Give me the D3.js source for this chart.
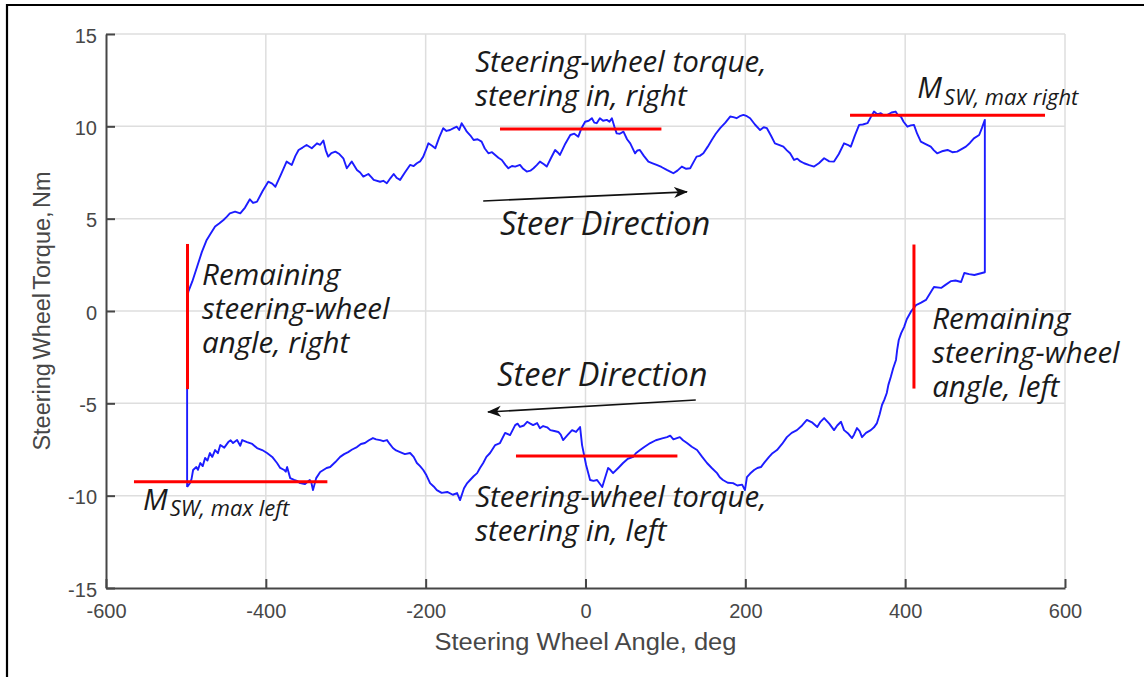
<!DOCTYPE html>
<html>
<head>
<meta charset="utf-8">
<script src="https://cdn.jsdelivr.net/npm/d3@7"></script>
<style>
  html, body { margin: 0; padding: 0; background: #fff; }
  svg { display: block; }
</style>
</head>
<body>
<svg id="chart" width="1144" height="677"></svg>
<script>
// Axis ticks
const xTicks = [-600, -400, -200, 0, 200, 400, 600];
const yTicks = [-15, -10, -5, 0, 5, 10, 15];

// Steering in to the right: [angle deg, torque Nm]
const upperBranch = [
  [-498.5,-9.53],[-498.5,0.6],[-497,1.05],[-492,1.6],[-486,2.4],[-480,3.2],[-474,3.85],[-469,4.2],
  [-463.5,4.57],[-458,4.75],[-453,4.93],[-449,5.1],[-445,5.29],[-438.5,5.38],[-432,5.29],[-426,5.6],
  [-420,6.05],[-416,5.85],[-411,5.92],[-404,6.5],[-397,7.0],[-392,6.9],[-388,6.73],[-381,7.4],
  [-374,8.09],[-367.5,7.91],[-363,8.4],[-359,8.72],[-354,8.85],[-349,8.99],[-342.5,8.81],[-336,9.08],
  [-332,9.0],[-328,9.23],[-325,8.7],[-322,8.36],[-318,8.55],[-313,8.63],[-308,8.5],[-303,8.27],
  [-298.7,7.73],[-295,7.95],[-292.5,8.09],[-286,7.64],[-282,7.5],[-278,7.28],[-271.7,7.42],[-268,7.25],
  [-265,7.1],[-257,7.0],[-253,7.05],[-248.6,6.92],[-244,7.2],[-240,7.42],[-236,7.2],[-232,7.1],
  [-226,7.5],[-219.5,7.91],[-215,7.85],[-211,8.0],[-207,8.1],[-203,8.36],[-199,8.8],[-196.6,9.08],
  [-192,8.95],[-188,8.81],[-183,9.4],[-178,9.9],[-174,9.75],[-169.5,9.8],[-165,9.9],[-161,9.98],
  [-158,9.8],[-155,10.17],[-151,9.9],[-148.5,9.71],[-144,9.5],[-140,9.26],[-135,9.3],[-130,9.17],
  [-126,8.8],[-121.5,8.54],[-117,8.6],[-113,8.45],[-109,8.3],[-104.7,8.18],[-100,7.9],[-96.5,7.73],
  [-92,7.85],[-88,7.82],[-82,7.91],[-78,7.7],[-73.5,7.55],[-69,7.6],[-65,7.73],[-61,7.9],
  [-57,8.09],[-52,7.95],[-48.5,7.82],[-43,8.3],[-38,8.72],[-35,8.6],[-32,8.45],[-26,9.0],
  [-19,9.53],[-14,9.6],[-9,9.44],[-5,9.9],[-0.5,10.25],[4,10.3],[8,10.44],[11,10.2],
  [14,10.17],[18,10.44],[22,10.3],[26.7,10.35],[30,10.25],[33,10.44],[36,10.0],[39,9.62],
  [43,9.6],[47.5,9.71],[52,9.3],[56,9.08],[62,8.54],[65,8.7],[68,8.72],[73,8.4],
  [78.7,8.09],[84,8.0],[89,7.91],[95,7.8],[101.7,7.64],[106,7.55],[110,7.46],[115,7.6],
  [120.5,7.82],[126,7.7],[131,7.73],[135,8.05],[139,8.36],[143,8.4],[147.5,8.54],[153,8.9],
  [158,9.26],[163,9.6],[168.5,9.9],[175,10.2],[181,10.53],[185,10.5],[189,10.44],[193,10.55],
  [197.6,10.62],[202,10.55],[206,10.44],[212,10.1],[218.5,9.8],[223,9.95],[227,9.9],[232,9.5],
  [237,9.08],[242,9.0],[247.6,8.9],[252,8.7],[256,8.54],[261,8.18],[265,8.25],[269,8.1],
  [273.5,8.0],[280,7.9],[286,7.82],[292,8.0],[298.6,8.27],[305,8.1],[311,8.09],[317,8.5],
  [323.5,9.08],[328,9.0],[332,8.9],[337,9.5],[342.4,10.08],[347,10.1],[352.8,10.17],[357,10.5],
  [361,10.8],[365,10.65],[369.5,10.71],[373,10.6],[377.8,10.62],[383,10.75],[388,10.8],[391,10.6],
  [394.6,10.53],[398,10.25],[402.8,9.98],[407,10.05],[411,10.08],[415,9.6],[419.6,9.17],[425,9.05],
  [432,8.9],[436,8.7],[440,8.54],[446,8.65],[453,8.72],[459,8.6],[465,8.63],[470,8.75],
  [476,8.9],[481,9.1],[486,9.35],[492.6,9.53],[496,9.9],[499.7,10.35],[499.7,2.1]
];

// Steering back to the left: [angle deg, torque Nm]
const lowerBranch = [
  [486.6,1.95],[480,2.0],[474,2.06],[470,1.57],[463,1.65],[457.5,1.62],[450,1.4],[445,1.25],
  [436,1.3],[431,0.95],[426,0.6],[420,0.45],[413.6,0.32],[407,-0.05],[402,-0.45],[398.6,-0.87],
  [395,-1.2],[392,-1.57],[390,-2.1],[388.5,-2.65],[385,-3.1],[382,-3.57],[379,-4.0],[377,-4.44],
  [374,-4.8],[371,-5.09],[368,-5.6],[364.7,-6.07],[361,-6.3],[357,-6.45],[351,-6.6],[346,-6.83],
  [343,-6.5],[339.7,-6.34],[336,-6.7],[333.5,-6.88],[329,-6.65],[323.5,-6.45],[319.7,-6.0],[315,-6.2],
  [311,-6.45],[305,-6.1],[298.6,-5.8],[294,-6.0],[290,-6.28],[284,-6.05],[277,-5.9],[271,-6.2],
  [264.6,-6.45],[258,-6.6],[252,-6.83],[246,-7.2],[239.6,-7.53],[234,-7.7],[229.7,-7.9],[224,-8.2],
  [219.5,-8.45],[215,-8.5],[211,-8.61],[206,-8.8],[202,-9.0],[199.5,-9.7],[196,-9.4],[190,-9.45],
  [184.6,-9.32],[178,-9.3],[172,-9.15],[168,-9.0],[164.6,-8.78],[158,-8.5],[152,-8.23],[146,-7.9],
  [139.6,-7.53],[133,-7.35],[127,-7.15],[122,-7.0],[118,-6.83],[110,-6.95],[106,-6.75],[102,-6.83],
  [96,-6.9],[88,-7.0],[81,-7.15],[74,-7.35],[68.3,-7.53],[63,-7.7],[59.6,-7.9],[53,-8.0],
  [47,-8.23],[41,-8.5],[34.5,-8.78],[31,-8.6],[28.3,-8.5],[24,-9.1],[21,-9.53],[17,-9.3],
  [14.5,-9.15],[10,-9.2],[5.75,-9.15],[0.75,-8.34],[-4.3,-7.26],[-6.8,-6.28],[-11.8,-6.55],[-16.8,-6.45],
  [-22,-6.7],[-28,-6.99],[-31,-6.7],[-34,-6.55],[-39,-6.5],[-44,-6.45],[-48,-6.3],[-53,-6.23],
  [-57,-6.35],[-60.5,-6.07],[-65.6,-6.18],[-69,-6.1],[-73,-6.0],[-77,-6.2],[-82,-6.28],[-85,-6.1],
  [-88,-6.18],[-94.4,-6.72],[-100.6,-6.6],[-107,-7.15],[-113,-7.26],[-119.4,-7.69],[-124,-7.9],[-128,-8.23],
  [-132,-8.5],[-135.6,-8.78],[-140,-8.95],[-144.4,-9.15],[-148,-9.32],[-152,-9.6],[-157,-10.24],[-160.7,-9.86],
  [-166,-9.95],[-173,-9.8],[-180,-9.85],[-186,-9.7],[-190,-9.5],[-194.5,-9.32],[-199,-8.9],[-203,-8.61],
  [-207,-8.4],[-211,-8.23],[-215,-7.9],[-219.5,-7.69],[-226,-7.75],[-232,-7.64],[-237,-7.55],[-241,-7.42],
  [-245,-7.2],[-248.4,-6.99],[-253,-7.05],[-257,-6.99],[-262,-6.95],[-266,-6.88],[-271,-7.0],[-276,-7.15],
  [-281,-7.2],[-286,-7.37],[-292,-7.5],[-297,-7.64],[-302,-7.75],[-307,-7.9],[-313,-8.18],[-319.5,-8.45],
  [-324,-8.5],[-328,-8.61],[-332,-8.72],[-337,-9.05],[-341,-9.7],[-343,-9.3],[-345,-9.15],[-351,-9.37],
  [-357,-9.32],[-361,-9.2],[-364.6,-9.15],[-369.5,-9.05],[-373.4,-8.45],[-375,-8.7],[-377,-8.61],[-382,-8.5],
  [-386,-8.23],[-392,-7.9],[-398.5,-7.69],[-404.6,-7.53],[-411,-7.42],[-417,-7.2],[-423.5,-7.1],[-429.6,-6.99],
  [-432,-7.3],[-436,-6.99],[-441,-7.15],[-444,-7.0],[-447,-7.1],[-452,-7.4],[-457,-7.26],[-460,-7.7],
  [-463.5,-7.53],[-467,-7.9],[-470,-7.69],[-473,-8.1],[-476,-7.96],[-479,-8.4],[-482,-8.23],[-485,-8.6],
  [-487,-8.45],[-491,-8.61],[-493,-9.1],[-495,-9.32],[-498.5,-9.53]
];

// Reference levels: horizontal [angle from, angle to, torque], vertical [angle, torque from, torque to]
const levelLines = [[331, 575, 10.6], [-107, 95, 9.85], [-87, 115, -7.85], [-565, -323, -9.25]];
const angleLines = [[-498, 3.63, -4.23], [411, 3.6, -4.2]];

// Steering direction arrows: [angle, torque] start -> end
const arrows = [[[-128, 5.96], [127, 6.45]], [[138, -4.82], [-122, -5.47]]];

// Annotation texts, anchored at the first baseline [angle, torque]
const notes = [
  { at: [-138, 12.94], lines: ["Steering-wheel torque,", "steering in, right"] },
  { at: [-138, -10.61], lines: ["Steering-wheel torque,", "steering in, left"] },
  { at: [-479.8, 1.41], lines: ["Remaining", "steering-wheel", "angle, right"] },
  { at: [433.8, -0.97], lines: ["Remaining", "steering-wheel", "angle, left"] }
];
const directionNotes = [
  { at: [-107, 4.11], text: "Steer Direction" },
  { at: [-110.6, -4.06], text: "Steer Direction" }
];
const peakLabels = [
  { at: [415, 11.53], main: "M", sub: "SW, max right" },
  { at: [-553.6, -10.77], main: "M", sub: "SW, max left" }
];

const svg = d3.select("#chart");
const plotLeft = 106, plotRight = 1065, plotTop = 34, plotBottom = 588;

const x = d3.scaleLinear().domain([-600, 600]).range([plotLeft, plotRight]);
const y = d3.scaleLinear().domain([-15, 15]).range([plotBottom, plotTop]);

// outer frame (top and left edges)
svg.append("line").attr("x1", 6).attr("x2", 1144).attr("y1", 5).attr("y2", 5)
  .attr("stroke", "#000").attr("stroke-width", 2.2);
svg.append("line").attr("x1", 7).attr("x2", 7).attr("y1", 4).attr("y2", 677)
  .attr("stroke", "#000").attr("stroke-width", 2.2);

// grid
const grid = svg.append("g").attr("stroke", "#dedede").attr("stroke-width", 1.5);
grid.selectAll(".gx").data(xTicks.slice(1)).join("line")
  .attr("x1", d => x(d)).attr("x2", d => x(d)).attr("y1", plotTop).attr("y2", plotBottom);
grid.selectAll(".gy").data(yTicks.slice(1)).join("line")
  .attr("x1", plotLeft).attr("x2", plotRight).attr("y1", d => y(d)).attr("y2", d => y(d));

// axes with inward ticks
const axisColor = "#464646";
const fmt = d => String(d);
const gx = svg.append("g").attr("transform", `translate(0,${plotBottom})`)
  .call(d3.axisBottom(x).tickValues(xTicks).tickSizeInner(-9).tickSizeOuter(0).tickPadding(0).tickFormat(fmt));
const gy = svg.append("g").attr("transform", `translate(${plotLeft},0)`)
  .call(d3.axisLeft(y).tickValues(yTicks).tickSizeInner(-9).tickSizeOuter(0).tickPadding(0).tickFormat(fmt));
[gx, gy].forEach(g => {
  g.select(".domain").attr("stroke", axisColor).attr("stroke-width", 2);
  g.selectAll(".tick line").attr("stroke", axisColor).attr("stroke-width", 2);
  g.selectAll(".tick text").attr("fill", "#474747").attr("font-family", "'Liberation Sans', Arial, sans-serif")
    .attr("font-size", 20);
});
gx.selectAll(".tick text").attr("y", 29.5).attr("dy", 0);
gy.selectAll(".tick text").attr("x", -9).attr("dy", "0.4em");

// axis titles
svg.append("text").attr("x", x(0)).attr("y", 650).attr("text-anchor", "middle")
  .attr("font-family", "'Liberation Sans', Arial, sans-serif").attr("font-size", 23.5)
  .attr("fill", "#474747").attr("textLength", 302).attr("lengthAdjust", "spacingAndGlyphs")
  .text("Steering Wheel Angle, deg");
svg.append("text").attr("transform", `translate(50,${y(0)}) rotate(-90)`).attr("text-anchor", "middle")
  .attr("font-family", "'Liberation Sans', Arial, sans-serif").attr("font-size", 23.5)
  .attr("fill", "#474747").attr("word-spacing", -3)
  .text("Steering Wheel Torque, Nm");

// measured curve
const line = d3.line().x(d => x(d[0])).y(d => y(d[1]));
svg.append("path").datum(upperBranch.concat(lowerBranch)).attr("d", line)
  .attr("fill", "none").attr("stroke", "#1c1cff").attr("stroke-width", 1.9).attr("stroke-linejoin", "round");

// reference levels
svg.append("g").selectAll("line").data(levelLines).join("line")
  .attr("x1", d => x(d[0])).attr("x2", d => x(d[1])).attr("y1", d => y(d[2])).attr("y2", d => y(d[2]))
  .attr("stroke", "#ff0000").attr("stroke-width", 3);
svg.append("g").selectAll("line").data(angleLines).join("line")
  .attr("x1", d => x(d[0])).attr("x2", d => x(d[0])).attr("y1", d => y(d[1])).attr("y2", d => y(d[2]))
  .attr("stroke", "#ff0000").attr("stroke-width", 3);

// arrows
svg.append("defs").append("marker").attr("id", "head")
  .attr("viewBox", "0 -6 14 12").attr("refX", 13).attr("refY", 0)
  .attr("markerWidth", 14).attr("markerHeight", 12).attr("markerUnits", "userSpaceOnUse")
  .attr("orient", "auto")
  .append("path").attr("d", "M0,-5.5 L14,0 L0,5.5 L4,0 Z").attr("fill", "#111");
svg.append("g").selectAll("line").data(arrows).join("line")
  .attr("x1", d => x(d[0][0])).attr("y1", d => y(d[0][1]))
  .attr("x2", d => x(d[1][0])).attr("y2", d => y(d[1][1]))
  .attr("stroke", "#111").attr("stroke-width", 1.6).attr("marker-end", "url(#head)");

// annotations
const noteFont = "'Open Sans', 'Noto Sans', sans-serif";
const nt = svg.append("g").selectAll("text").data(notes).join("text")
  .attr("x", d => x(d.at[0])).attr("y", d => y(d.at[1]))
  .attr("font-family", noteFont).attr("font-style", "italic").attr("font-size", 29.5).attr("fill", "#1a1a1a");
nt.selectAll("tspan").data(d => d.lines.map(t => ({ t, x: x(d.at[0]) }))).join("tspan")
  .attr("x", d => d.x).attr("dy", (d, i) => i === 0 ? 0 : 34).text(d => d.t);

svg.append("g").selectAll("text").data(directionNotes).join("text")
  .attr("x", d => x(d.at[0])).attr("y", d => y(d.at[1]))
  .attr("font-family", noteFont).attr("font-style", "italic").attr("font-size", 32.5).attr("fill", "#1a1a1a")
  .text(d => d.text);

const pl = svg.append("g").selectAll("text").data(peakLabels).join("text")
  .attr("x", d => x(d.at[0])).attr("y", d => y(d.at[1]))
  .attr("font-family", noteFont).attr("font-style", "italic").attr("fill", "#1a1a1a");
pl.append("tspan").attr("font-size", 29.5).text(d => d.main);
pl.append("tspan").attr("font-size", 22).attr("dx", 2).attr("dy", 6.5).text(d => d.sub);
</script>
</body>
</html>
